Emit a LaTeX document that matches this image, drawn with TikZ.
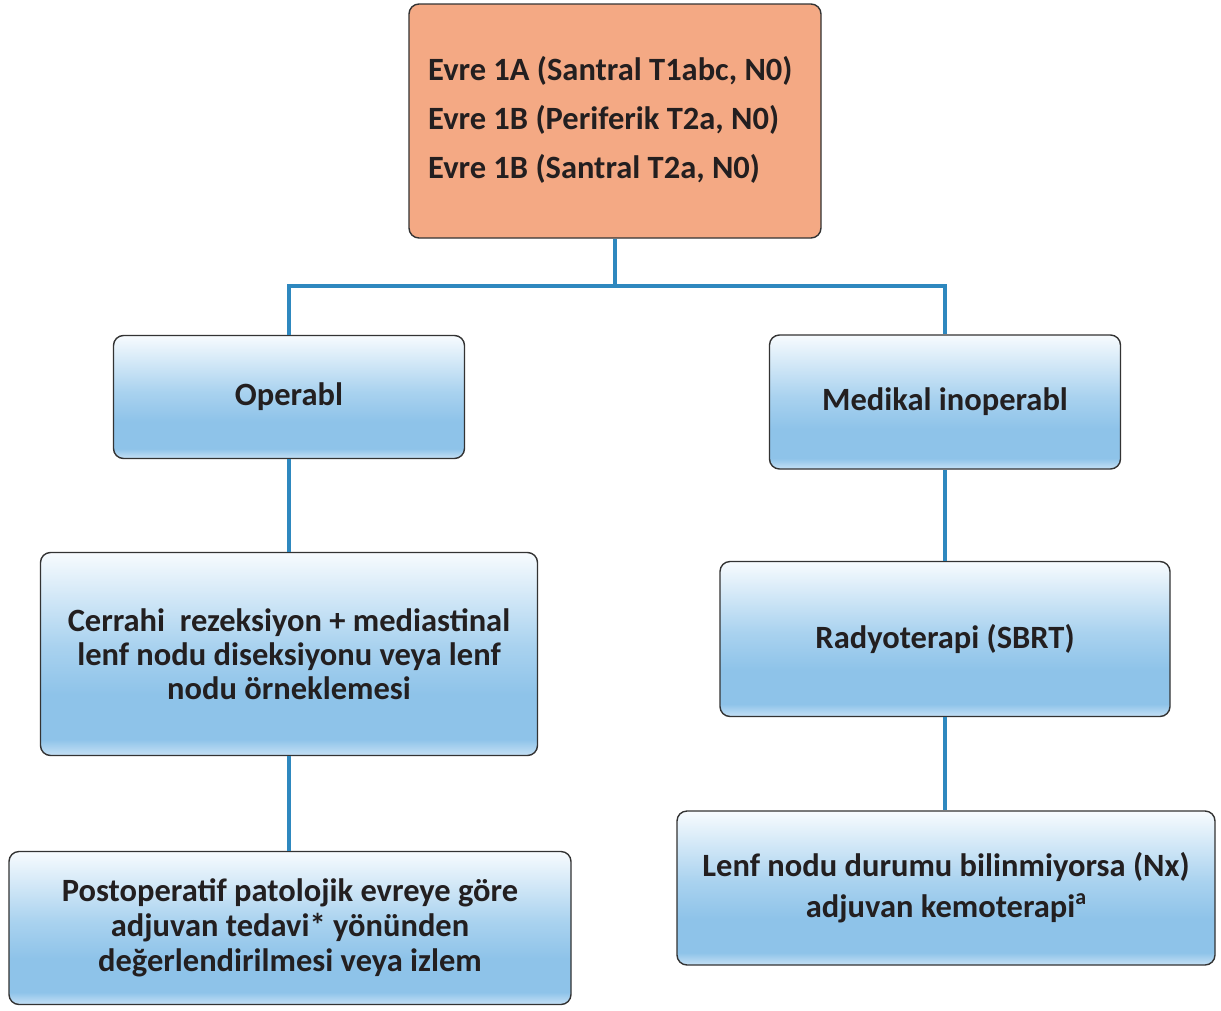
\documentclass[tikz,border=0pt]{standalone}
\usepackage{fontspec}
\setmainfont{Carlito}
\definecolor{stagefill}{HTML}{F4A984}
\definecolor{edge}{HTML}{333333}
\definecolor{link}{HTML}{2E88BF}
\definecolor{ink}{HTML}{231F20}
\definecolor{boxtop}{HTML}{F7FBFE}
\definecolor{boxmid}{HTML}{A9D2EF}
\definecolor{boxdeep}{HTML}{8EC3E9}
\definecolor{boxlow}{HTML}{C6E1F5}
\pgfdeclareverticalshading{bluegrad}{100bp}{color(0bp)=(boxlow); color(25bp)=(boxlow); color(29bp)=(boxdeep); color(40bp)=(boxdeep); color(52bp)=(boxmid); color(75bp)=(boxtop); color(100bp)=(boxtop)}
\newcommand{\supnote}[1]{\raisebox{0.42em}{\fontsize{22}{22}\selectfont #1}}
\begin{document}
\begin{tikzpicture}[x=1pt,y=-1pt,
  card/.style={draw=edge, line width=1.4pt, rounded corners=10pt, inner sep=0pt},
  stagebox/.style={card, fill=stagefill},
  bluebox/.style={card, shading=bluegrad, align=center, text=ink,
    font=\bfseries\fontsize{32.5}{34}\selectfont},
  link/.style={draw=link, line width=3.2pt}]
\useasboundingbox (0,0) rectangle (1221,1010);

% stage box
\node[stagebox, minimum width=412pt, minimum height=234pt] (stage) at (615,121) {};
\node[anchor=west, align=left, inner sep=0pt, text=ink,
  font=\bfseries\fontsize{32.5}{49}\selectfont] (stagetxt) at (428,120)
  {Evre 1A (Santral T1abc, N0)\\Evre 1B (Periferik T2a, N0)\\Evre 1B (Santral T2a, N0)};

% left column
\node[bluebox, minimum width=351pt, minimum height=123pt] (op) at (289,397) {Operabl};
\node[bluebox, minimum width=497pt, minimum height=203pt] (surg) at (289,654)
  {Cerrahi\ \ rezeksiyon + mediastinal\\lenf nodu diseksiyonu veya lenf\\nodu örneklemesi};
\node[bluebox, minimum width=562pt, minimum height=153pt,
  font=\bfseries\fontsize{32.5}{35}\selectfont] (post) at (290,928)
  {Postoperatif patolojik evreye göre\\adjuvan tedavi* yönünden\\değerlendirilmesi veya izlem};

% right column
\node[bluebox, minimum width=351pt, minimum height=134pt] (med) at (945,402) {Medikal inoperabl};
\node[bluebox, minimum width=450pt, minimum height=155pt] (rt) at (945,639) {Radyoterapi (SBRT)};
\node[bluebox, minimum width=538pt, minimum height=154pt,
  font=\bfseries\fontsize{32.5}{41}\selectfont] (chemo) at (946,888)
  {Lenf nodu durumu bilinmiyorsa (Nx)\\adjuvan kemoterapi\supnote{a}};

% connectors
\coordinate (split) at (615,286);
\draw[link] (stage.south) -- (split);
\draw[link] (op.north) |- (split) -| (med.north);
\draw[link] (op.south) -- (surg.north);
\draw[link] (surg.south) -- (post.north -| surg.south);
\draw[link] (med.south) -- (rt.north);
\draw[link] (rt.south) -- (chemo.north -| rt.south);
\end{tikzpicture}
\end{document}
